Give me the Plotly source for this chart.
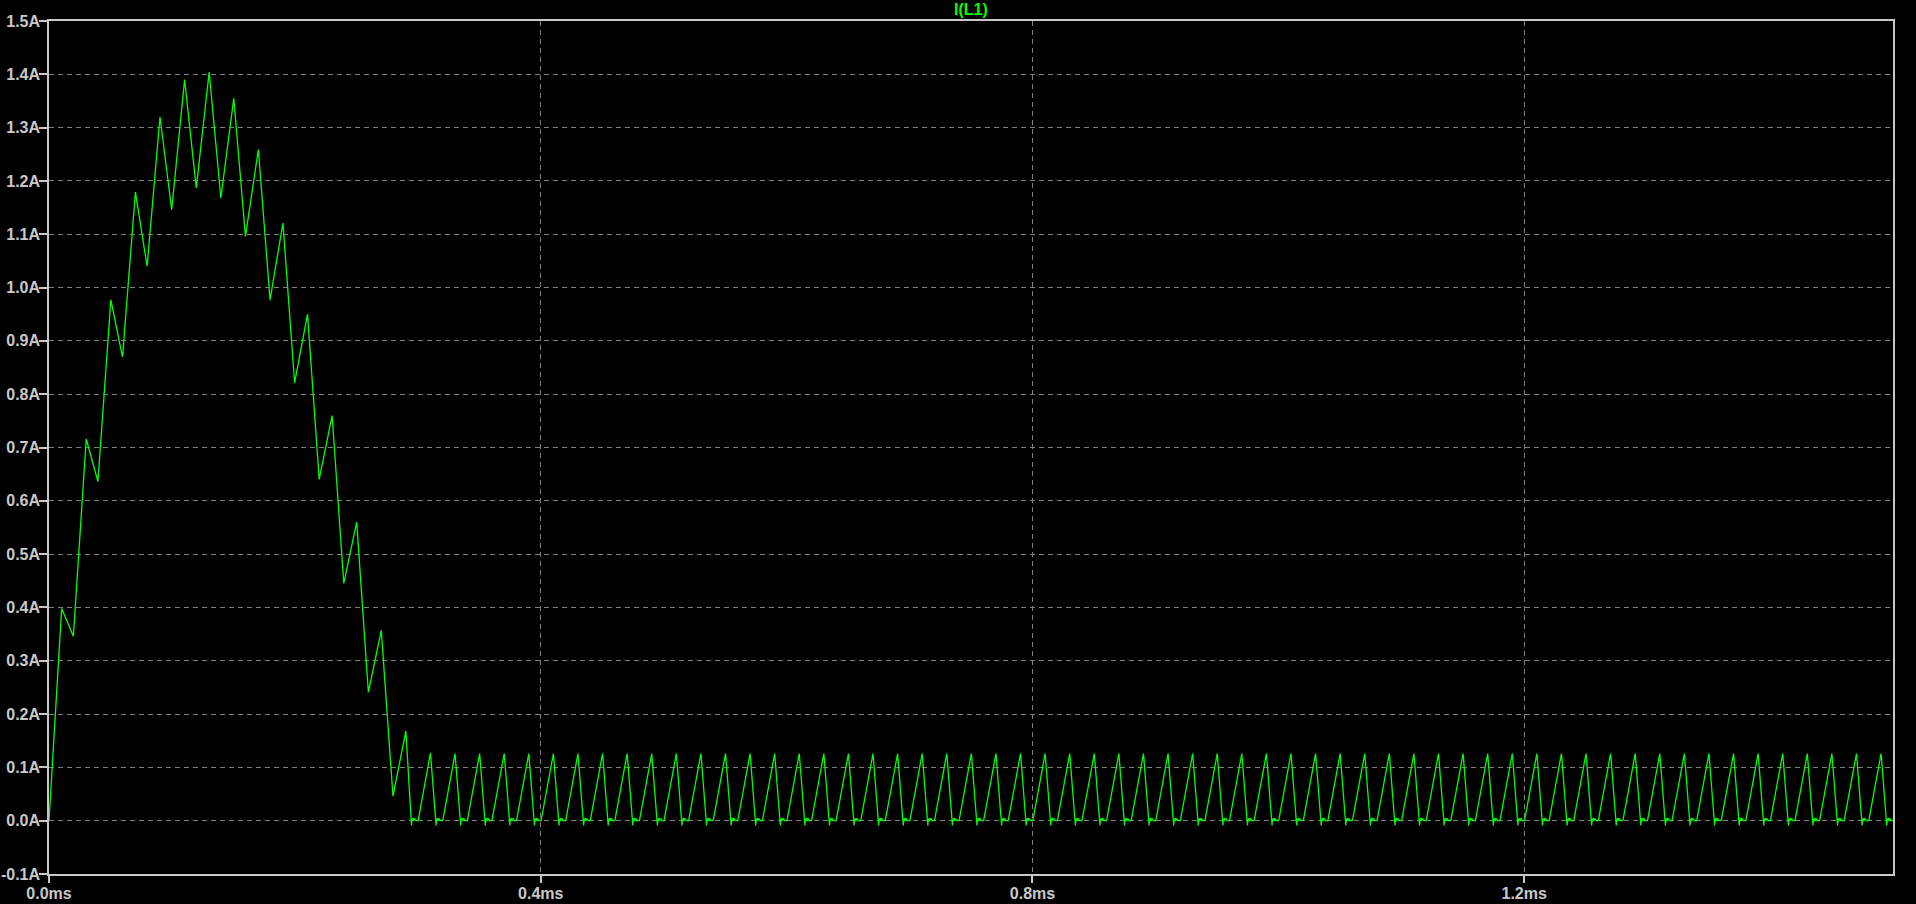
import plotly.graph_objects as go

# ---------------- data ----------------
# Start-up (continuous conduction): ripple corner points, time in µs, current in A
ccm_t_us = [0.0, 10.3, 19.8, 30.3, 39.8, 50.3, 59.8, 70.3, 79.8, 90.3,
            99.8, 110.3, 119.8, 130.3, 139.8, 150.3, 159.8, 170.3, 179.8, 190.3,
            199.8, 210.3, 219.8, 230.3, 239.8, 250.3, 259.8, 270.3, 279.8, 290.3]
ccm_i_A = [0.0, 0.398, 0.346, 0.716, 0.636, 0.977, 0.870, 1.179, 1.040, 1.320,
           1.146, 1.390, 1.187, 1.404, 1.168, 1.355, 1.096, 1.259, 0.977, 1.121,
           0.821, 0.950, 0.640, 0.760, 0.445, 0.560, 0.241, 0.357, 0.046, 0.168]

# Steady state (discontinuous conduction): time (µs) and current (A) of each pulse peak
dcm_peak_t_us = [310.3, 330.3, 350.3, 370.3, 390.3, 410.3, 430.3, 450.3, 470.3, 490.3,
                 510.3, 530.3, 550.3, 570.3, 590.3, 610.3, 630.3, 650.3, 670.3, 690.3,
                 710.3, 730.3, 750.3, 770.3, 790.3, 810.3, 830.3, 850.3, 870.3, 890.3,
                 910.3, 930.3, 950.3, 970.3, 990.3, 1010.3, 1030.3, 1050.3, 1070.3, 1090.3,
                 1110.3, 1130.3, 1150.3, 1170.3, 1190.3, 1210.3, 1230.3, 1250.3, 1270.3, 1290.3,
                 1310.3, 1330.3, 1350.3, 1370.3, 1390.3, 1410.3, 1430.3, 1450.3, 1470.3, 1490.3]
dcm_peak_A = [0.127, 0.126, 0.126, 0.126, 0.126, 0.126, 0.126, 0.126, 0.126, 0.126,
              0.126, 0.126, 0.126, 0.126, 0.126, 0.126, 0.126, 0.126, 0.126, 0.126,
              0.126, 0.126, 0.126, 0.126, 0.126, 0.126, 0.126, 0.126, 0.126, 0.126,
              0.126, 0.126, 0.126, 0.126, 0.126, 0.126, 0.126, 0.126, 0.126, 0.126,
              0.126, 0.126, 0.126, 0.126, 0.126, 0.126, 0.126, 0.126, 0.126, 0.126,
              0.126, 0.126, 0.126, 0.126, 0.126, 0.126, 0.126, 0.126, 0.126, 0.126]
# After each peak: fall, undershoot and ringing (µs after peak, A)
tail_dt_us = [4.6, 5.0, 5.5, 6.0, 6.6, 7.2, 8.0]
tail_i_A = [-0.009, 0.004, -0.001, 0.005, 0.001, 0.004, 0.0]
dcm_rise_us = 10.0          # on-time of the switch
end_t_us = 1500.0

y_ticks = [-0.1, 0.0, 0.1, 0.2, 0.3, 0.4, 0.5, 0.6, 0.7, 0.8, 0.9, 1.0, 1.1, 1.2, 1.3, 1.4, 1.5]
y_labels = ["-0.1A", "0.0A", "0.1A", "0.2A", "0.3A", "0.4A", "0.5A", "0.6A", "0.7A",
            "0.8A", "0.9A", "1.0A", "1.1A", "1.2A", "1.3A", "1.4A", "1.5A"]
x_ticks_us = [0, 400, 800, 1200]
x_labels = ["0.0ms", "0.4ms", "0.8ms", "1.2ms"]

# ---------------- build the trace ----------------
t = list(ccm_t_us)
i = list(ccm_i_A)
for dt, v in zip(tail_dt_us, tail_i_A):
    t.append(ccm_t_us[-1] + dt)
    i.append(v)
for pk_t, pk_i in zip(dcm_peak_t_us, dcm_peak_A):
    t.append(pk_t - dcm_rise_us)
    i.append(0.0)
    t.append(pk_t)
    i.append(pk_i)
    for dt, v in zip(tail_dt_us, tail_i_A):
        t.append(pk_t + dt)
        i.append(v)
t.append(end_t_us)
i.append(0.0)

GREEN = "#00ff00"
FG = "#c8c8c8"
GRID = "#808080"

fig = go.Figure()
fig.add_trace(go.Scatter(x=t, y=i, mode="lines",
                         line=dict(color=GREEN, width=1.3),
                         hoverinfo="skip", showlegend=False))

axis_common = dict(
    automargin=False,
    showgrid=True, gridcolor=GRID, gridwidth=1, griddash="5px,4px",
    zeroline=False, showline=True, mirror=True, linecolor=FG, linewidth=1.5,
    ticks="outside", tickcolor=FG, tickwidth=1.5,
    tickfont=dict(family="Liberation Sans, Arial, sans-serif", size=16,
                  color=FG, weight="bold"),
)

fig.update_layout(
    width=1916, height=904,
    paper_bgcolor="black", plot_bgcolor="black",
    margin=dict(l=49, r=23, t=21, b=30),
    showlegend=False,
    xaxis=dict(range=[0, end_t_us], tickmode="array", tickvals=x_ticks_us,
               ticktext=x_labels, ticklen=7, ticklabelstandoff=-3, **axis_common),
    yaxis=dict(range=[-0.1, 1.5], tickmode="array", tickvals=y_ticks,
               ticktext=y_labels, ticklen=8, ticklabelstandoff=-4, **axis_common),
    annotations=[dict(text="I(L1)", xref="paper", yref="paper", x=0.5,
                      y=1.0, yshift=11.5, xanchor="center", yanchor="middle",
                      showarrow=False,
                      font=dict(family="Liberation Sans, Arial, sans-serif",
                                size=16, color=GREEN, weight="bold"))],
)

fig.write_html("out.html", config={"displayModeBar": False},
               post_script="document.body.style.margin='0';"
                           "document.body.style.overflow='hidden';"
                           "document.body.style.background='black';")
